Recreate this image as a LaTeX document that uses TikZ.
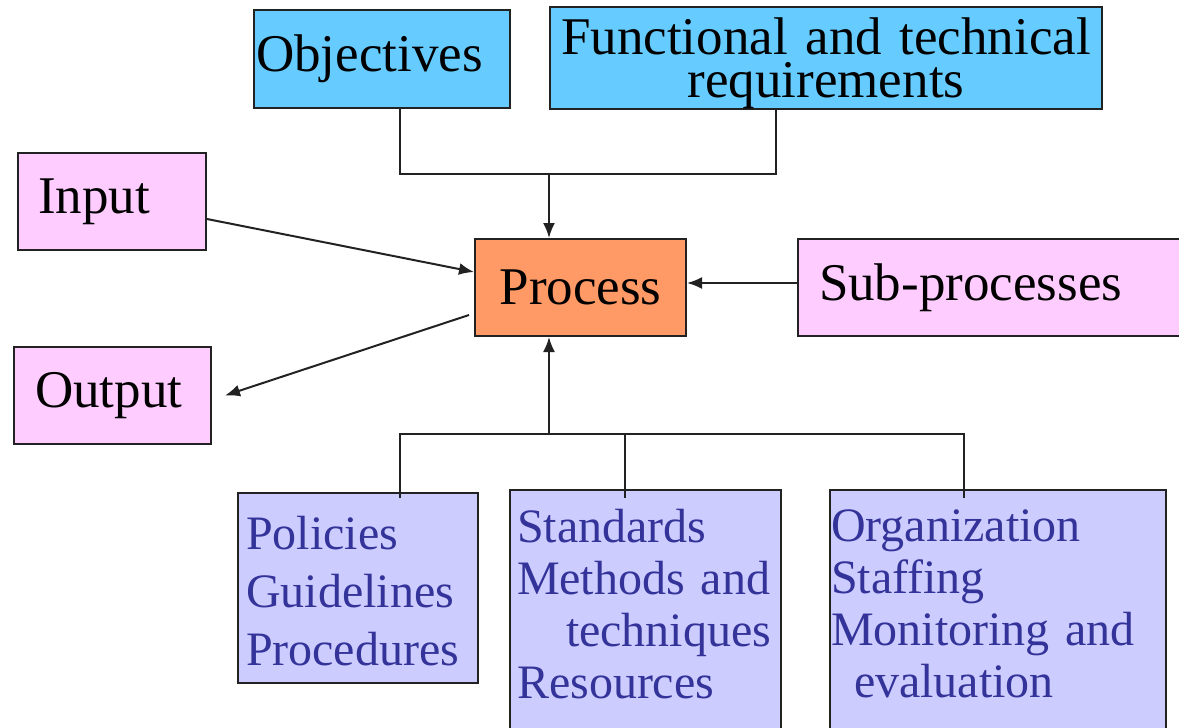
\documentclass[tikz,border=0pt]{standalone}
\usepackage{fontspec}
\setmainfont{Liberation Serif}
\usetikzlibrary{arrows.meta}
\definecolor{skyfill}{HTML}{66CCFF}
\definecolor{pinkfill}{HTML}{FFCCFF}
\definecolor{procfill}{HTML}{FF9966}
\definecolor{lilacfill}{HTML}{CCCCFF}
\definecolor{lilactext}{HTML}{333399}
\definecolor{edge}{HTML}{222222}
\begin{document}
\begin{tikzpicture}[x=1pt,y=-1pt,line width=2pt,
  box/.style={draw=edge,rectangle,inner sep=0pt,align=left,font=\fontsize{53}{60}\selectfont},
  goal/.style={box,fill=skyfill},
  flow/.style={box,fill=pinkfill},
  means/.style={box,fill=lilacfill,text=lilactext,minimum height=250pt,font=\fontsize{48}{52}\selectfont},
  arr/.style={draw=edge,-{Latex[length=15pt,width=12pt]}},
  link/.style={draw=edge}]
  \useasboundingbox (0,0) rectangle (1179,728);
  % top row
  \node[goal,text width=252pt,inner xsep=2pt,minimum height=98pt] (obj) at (382,59) {Objectives};
  \node[goal,align=center,text width=548pt,inner xsep=2pt,minimum height=96pt,
        font=\fontsize{53}{43}\selectfont] (req) at (826,58)
        {\rule{0pt}{48pt}Functional and technical\\requirements};
  % middle row
  \node[flow,text width=148pt,inner xsep=20pt,minimum height=97pt] (input) at (112,201.5) {Input};
  \node[box,fill=procfill,align=center,text width=211pt,minimum height=97pt] (proc) at (580.5,287.5) {Process};
  \node[flow,text width=360pt,inner xsep=21pt,minimum height=97pt] (sub) at (999,287.5) {Sub-processes};
  \node[flow,text width=155pt,inner xsep=21pt,minimum height=97pt] (output) at (112.5,395.5) {Output};
  % bottom row
  \node[means,text width=224pt,inner xsep=8pt,minimum height=190pt,
        font=\fontsize{48}{58}\selectfont] (pol) at (358,588)
        {\rule{0pt}{40pt}Policies\\Guidelines\\Procedures};
  \node[means,text width=257pt,inner xsep=7pt] (std) at (645.5,615)
        {Standards\\Methods and\\\hspace*{49pt}techniques\\Resources\rule[-22pt]{0pt}{0pt}};
  \node[means,text width=334pt,inner xsep=1pt] (org) at (998,615)
        {Organization\\Staffing\\Monitoring and\\\hspace*{23pt}evaluation\rule[-22pt]{0pt}{0pt}};
  % connectors
  \coordinate (tl) at (400,174);
  \coordinate (tm) at (549,174);
  \coordinate (tr) at (776,174);
  \draw[link] (obj.south -| tl) |- (tr) -- (req.south -| tr);
  \draw[arr] (tm) -- (proc.north -| tm);
  \draw[arr] ([yshift=-17.5pt]input.east) -- ([yshift=15.5pt]proc.west);
  \draw[arr] ([shift={(-5pt,-27.5pt)}]proc.west) -- ([xshift=13pt]output.east);
  \draw[arr] ([yshift=4.5pt]sub.west) -- ([yshift=4.5pt]proc.east);
  \coordinate (bl) at (400,434);
  \coordinate (bm) at (549,434);
  \coordinate (bc) at (625,434);
  \coordinate (br) at (964,434);
  \draw[arr] (bm) -- (proc.south -| bm);
  \draw[link] ([yshift=-6pt]pol.north -| bl) |- (br) -- ([yshift=-9pt]org.north -| br);
  \draw[link] (bc) -- ([yshift=-9pt]std.north -| bc);
\end{tikzpicture}
\end{document}
